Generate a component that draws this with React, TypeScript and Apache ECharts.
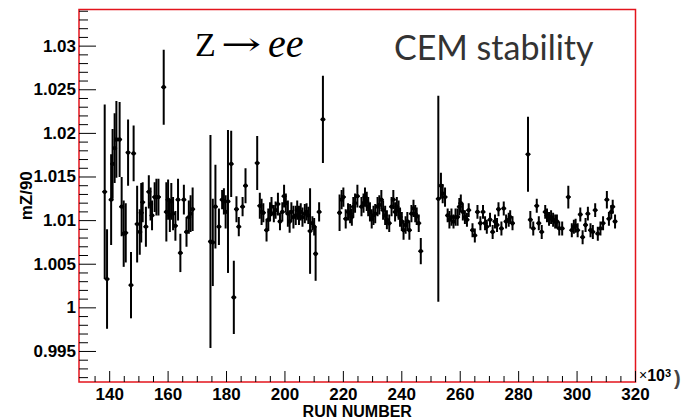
import React, { useEffect, useRef } from "react";
import * as echarts from "echarts";

// Run number (x10^3)
const runNumbers = [
  138.3, 139.1, 140.5, 141.0, 141.7, 142.3, 143.4, 144.1, 144.8, 145.5,
  146.3, 147.3, 148.2, 149.4, 150.3, 150.8, 151.3, 152.4, 153.4, 154.0,
  154.5, 155.4, 156.0, 156.7, 158.5, 159.4, 160.0, 160.6, 161.1, 161.7,
  162.5, 163.4, 164.2, 165.4, 166.3, 167.1, 167.7, 168.4,
  174.5, 175.3, 176.2, 177.4, 178.5, 179.1, 179.7, 180.5, 181.6, 182.5,
  183.4, 184.2, 185.5,
  186.5, 190.5, 191.4, 192.0, 192.6, 193.7, 194.3, 194.9, 195.4, 196.2,
  196.8, 197.6, 198.3, 199.1, 199.7, 200.3, 201.0, 201.6, 202.2, 202.9,
  203.7, 204.2, 204.8, 205.4, 206.0, 206.8, 207.4, 208.0, 208.6, 209.4,
  210.0, 210.5, 211.7, 213.0,
  218.7, 219.4, 220.0, 220.8, 221.6, 222.3, 222.9, 223.4, 224.0, 224.8,
  226.2, 226.9, 227.4, 228.0, 228.5, 229.1, 229.7, 230.3, 230.9, 231.7,
  232.3, 233.0, 233.6, 234.3, 234.9, 235.7, 236.5, 237.1, 237.7, 238.3,
  238.9, 239.4, 240.0, 240.6, 241.3, 241.9, 242.6, 243.3, 244.0, 244.6,
  245.1, 245.8, 246.5,
  252.5, 253.4, 254.0, 254.8, 255.7, 256.3, 257.0, 257.7, 258.4, 259.1,
  259.7, 260.2, 260.9, 261.6, 262.3, 262.9,
  264.2, 265.0, 265.9, 266.9, 267.8, 268.5, 269.1, 270.2, 271.1, 271.9,
  272.6, 273.1, 274.1, 274.9, 275.7, 276.6, 277.1, 277.9,
  283.2, 284.0, 285.0, 286.2, 286.9, 287.9, 289.1, 289.7, 290.4, 291.1,
  291.8, 292.5, 293.1, 293.9, 294.9,
  297.0, 298.2, 298.9, 299.5, 300.2, 301.1, 301.9, 302.9, 303.7, 304.6,
  305.4, 306.2, 307.1, 308.0, 308.9, 310.2, 310.9, 311.7, 312.2, 313.0,
];

// mZ/90
const mzRatio = [
  1.0133, 1.0033, 1.0124, 1.0165, 1.0183, 1.0193, 1.0193, 1.0116, 1.0085, 1.0086,
  1.0178, 1.0026, 1.0177, 1.0096, 1.0087, 1.0109, 1.0121, 1.0093, 1.0133, 1.0119,
  1.0106, 1.0127, 1.0127, 1.0127, 1.0253, 1.0110, 1.0124, 1.0106, 1.0122, 1.0108,
  1.0094, 1.0124, 1.0063, 1.0124, 1.0087, 1.0104, 1.0108, 1.0113,
  1.0076, 1.0075, 1.0116, 1.0093, 1.0124, 1.0122, 1.0110, 1.0122, 1.0165, 1.0012,
  1.0113, 1.0093, 1.0116,
  1.0140, 1.0166, 1.0117, 1.0110, 1.0109, 1.0089, 1.0101, 1.0110, 1.0116, 1.0108,
  1.0112, 1.0119, 1.0099, 1.0110, 1.0128, 1.0120, 1.0108, 1.0099, 1.0110, 1.0104,
  1.0106, 1.0112, 1.0106, 1.0110, 1.0104, 1.0108, 1.0110, 1.0106, 1.0088, 1.0097,
  1.0093, 1.0062, 1.0110, 1.0216,
  1.0109, 1.0124, 1.0127, 1.0102, 1.0110, 1.0108, 1.0104, 1.0116, 1.0120, 1.0128,
  1.0116, 1.0120, 1.0127, 1.0122, 1.0116, 1.0110, 1.0102, 1.0106, 1.0108, 1.0116,
  1.0118, 1.0124, 1.0112, 1.0106, 1.0101, 1.0097, 1.0116, 1.0124, 1.0110, 1.0116,
  1.0112, 1.0104, 1.0099, 1.0089, 1.0095, 1.0099, 1.0089, 1.0108, 1.0114, 1.0108,
  1.0105, 1.0097, 1.0065,
  1.0125, 1.0140, 1.0131, 1.0127, 1.0106, 1.0101, 1.0104, 1.0099, 1.0104, 1.0104,
  1.0116, 1.0120, 1.0110, 1.0104, 1.0101, 1.0112,
  1.0089, 1.0083, 1.0110, 1.0097, 1.0110, 1.0097, 1.0093, 1.0101, 1.0087, 1.0099,
  1.0095, 1.0113, 1.0091, 1.0114, 1.0099, 1.0101, 1.0104, 1.0097,
  1.0176, 1.0101, 1.0091, 1.0117, 1.0097, 1.0087, 1.0110, 1.0106, 1.0102, 1.0104,
  1.0101, 1.0099, 1.0099, 1.0091, 1.0091,
  1.0127, 1.0089, 1.0093, 1.0094, 1.0089, 1.0107, 1.0081, 1.0095, 1.0108, 1.0089,
  1.0087, 1.0112, 1.0085, 1.0091, 1.0097, 1.0124, 1.0102, 1.0110, 1.0116, 1.0099,
];

// statistical error on mZ/90
const mzError = [
  0.0100, 0.0057, 0.0052, 0.0040, 0.0040, 0.0044, 0.0043, 0.0034, 0.0038, 0.0034,
  0.0038, 0.0038, 0.0032, 0.0044, 0.0026, 0.0034, 0.0023, 0.0023, 0.0019, 0.0019,
  0.0017, 0.0017, 0.0021, 0.0021, 0.0043, 0.0034, 0.0023, 0.0019, 0.0021, 0.0019,
  0.0017, 0.0024, 0.0022, 0.0017, 0.0017, 0.0019, 0.0021, 0.0025,
  0.0122, 0.0050, 0.0048, 0.0021, 0.0011, 0.0015, 0.0019, 0.0082, 0.0038, 0.0042,
  0.0015, 0.0011, 0.0011,
  0.0020, 0.0031, 0.0015, 0.0015, 0.0011, 0.0013, 0.0013, 0.0011, 0.0011, 0.0010,
  0.0010, 0.0013, 0.0010, 0.0011, 0.0013, 0.0011, 0.0015, 0.0013, 0.0011, 0.0013,
  0.0011, 0.0011, 0.0011, 0.0010, 0.0011, 0.0011, 0.0010, 0.0010, 0.0049, 0.0008,
  0.0010, 0.0031, 0.0011, 0.0050,
  0.0021, 0.0011, 0.0011, 0.0011, 0.0010, 0.0011, 0.0010, 0.0011, 0.0011, 0.0013,
  0.0011, 0.0011, 0.0011, 0.0011, 0.0011, 0.0011, 0.0011, 0.0011, 0.0011, 0.0011,
  0.0011, 0.0011, 0.0011, 0.0011, 0.0011, 0.0010, 0.0011, 0.0011, 0.0011, 0.0011,
  0.0011, 0.0011, 0.0011, 0.0011, 0.0010, 0.0011, 0.0011, 0.0010, 0.0010, 0.0010,
  0.0010, 0.0010, 0.0015,
  0.0118, 0.0015, 0.0011, 0.0011, 0.0008, 0.0010, 0.0010, 0.0008, 0.0010, 0.0010,
  0.0010, 0.0010, 0.0010, 0.0008, 0.0008, 0.0008,
  0.0008, 0.0008, 0.0008, 0.0008, 0.0008, 0.0008, 0.0008, 0.0008, 0.0008, 0.0008,
  0.0008, 0.0008, 0.0008, 0.0008, 0.0008, 0.0008, 0.0008, 0.0008,
  0.0043, 0.0010, 0.0008, 0.0008, 0.0008, 0.0008, 0.0008, 0.0008, 0.0008, 0.0008,
  0.0008, 0.0008, 0.0008, 0.0008, 0.0008,
  0.0013, 0.0008, 0.0008, 0.0008, 0.0008, 0.0008, 0.0008, 0.0008, 0.0008, 0.0008,
  0.0008, 0.0008, 0.0008, 0.0008, 0.0008, 0.0010, 0.0008, 0.0008, 0.0008, 0.0008,
];

const xTickLabels = [140, 160, 180, 200, 220, 240, 260, 280, 300, 320];
const yTickLabels = [0.995, 1, 1.005, 1.01, 1.015, 1.02, 1.025, 1.03];

const X_MIN = 129.5;
const X_MAX = 320;
const Y_MIN = 0.9915;
const Y_MAX = 1.0342;

const tickSeries = (
  values: number[],
  axis: "x" | "y",
  len: number
) => ({
  type: "custom",
  xAxisIndex: 0,
  yAxisIndex: 0,
  clip: false,
  silent: true,
  z: 5,
  data: values.map((v) => (axis === "x" ? [v, Y_MIN] : [X_MIN, v])),
  renderItem: (_p: any, api: any) => {
    const c = api.coord([api.value(0), api.value(1)]);
    const shape =
      axis === "x"
        ? { x1: c[0], y1: c[1], x2: c[0], y2: c[1] - len }
        : { x1: c[0], y1: c[1], x2: c[0] + len, y2: c[1] };
    return { type: "line", shape, style: { stroke: "#000", lineWidth: 1 } };
  },
});

export default function App() {
  const ref = useRef<HTMLDivElement>(null);

  useEffect(() => {
    if (!ref.current) return;
    const chart = echarts.init(ref.current, null, { renderer: "svg" });

    const xMinor: number[] = [];
    for (let v = 135; v < 320; v += 5) if (v % 20 !== 0) xMinor.push(v);
    const yMinor: number[] = [];
    for (let i = 992; i <= 1034; i++) if (i % 5 !== 0) yMinor.push(i / 1000);

    const data = runNumbers.map((r, i) => [r, mzRatio[i], mzError[i]]);

    const labelFont = {
      fontFamily: "Liberation Sans",
      fontWeight: "bold" as const,
      fontSize: 17,
      color: "#000",
    };

    chart.setOption({
      animation: false,
      backgroundColor: "#fff",
      grid: {
        left: 79,
        right: 47.5,
        top: 9.5,
        bottom: 38,
        containLabel: false,
        outerBoundsMode: "none",
        show: true,
        borderColor: "#e3141c",
        borderWidth: 1.5,
        backgroundColor: "transparent",
      },
      xAxis: {
        type: "value",
        min: X_MIN,
        max: X_MAX,
        position: "bottom",
        name: "RUN NUMBER",
        nameLocation: "middle",
        nameGap: 21,
        nameMoveOverlap: false,
        nameTextStyle: { ...labelFont, fontSize: 16, lineHeight: 16 },
        axisLine: { show: false },
        splitLine: { show: false },
        axisTick: { show: false },
        axisLabel: {
          ...labelFont,
          lineHeight: 16,
          margin: 4,
          customValues: xTickLabels,
          formatter: (v: number) => String(Math.round(v)),
        },
      },
      yAxis: {
        type: "value",
        min: Y_MIN,
        max: Y_MAX,
        position: "left",
        name: "mZ/90",
        nameLocation: "middle",
        nameGap: 44,
        nameRotate: 90,
        nameMoveOverlap: false,
        nameTextStyle: { ...labelFont },
        axisLine: { show: false },
        splitLine: { show: false },
        axisTick: { show: false },
        axisLabel: {
          ...labelFont,
          margin: 3,
          customValues: yTickLabels,
          formatter: (v: number) => String(Number(v.toFixed(3))),
        },
      },
      series: [
        tickSeries(xTickLabels, "x", 11),
        tickSeries(xMinor, "x", 6),
        tickSeries(yTickLabels, "y", 17),
        tickSeries(yMinor, "y", 9),
        {
          type: "custom",
          xAxisIndex: 0,
          yAxisIndex: 0,
          clip: true,
          z: 3,
          data,
          renderItem: (_params: any, api: any) => {
            const x = api.value(0);
            const y = api.value(1);
            const e = api.value(2);
            const c = api.coord([x, y]);
            const top = api.coord([x, y + e]);
            const bot = api.coord([x, y - e]);
            return {
              type: "group",
              children: [
                {
                  type: "line",
                  shape: { x1: c[0], y1: top[1], x2: c[0], y2: bot[1] },
                  style: { stroke: "#000", lineWidth: 2 },
                },
                {
                  type: "line",
                  shape: { x1: c[0] - 2.5, y1: c[1], x2: c[0] + 2.5, y2: c[1] },
                  style: { stroke: "#000", lineWidth: 1.5 },
                },
                {
                  type: "circle",
                  shape: { cx: c[0], cy: c[1], r: 2.2 },
                  style: { fill: "#000" },
                },
              ],
            };
          },
        },
      ],
      graphic: [
        {
          type: "text",
          x: 195,
          y: 44,
          style: {
            text: "Z",
            font: '34px "Liberation Serif"',
            fill: "#000",
            verticalAlign: "middle",
          },
        },
        {
          type: "text",
          x: 221,
          y: 44,
          scaleX: 1.5,
          style: {
            text: "→",
            font: '32px "DejaVu Serif"',
            fill: "#000",
            verticalAlign: "middle",
          },
        },
        {
          type: "text",
          x: 268,
          y: 43,
          style: {
            text: "ee",
            font: 'italic 40px "Liberation Serif"',
            fill: "#000",
            verticalAlign: "middle",
          },
        },
        {
          type: "text",
          x: 394,
          y: 46,
          style: {
            text: "CEM stability",
            font: '34px Lato',
            fill: "#333",
            verticalAlign: "middle",
          },
        },
        {
          type: "text",
          x: 639,
          y: 375,
          style: {
            text: "{x|×}{n|10}{s|3}",
            verticalAlign: "middle",
            rich: {
              x: { fontFamily: "Liberation Sans", fontSize: 14, lineHeight: 15, fill: "#000" },
              n: { fontFamily: "Liberation Sans", fontWeight: "bold", fontSize: 16, lineHeight: 15, fill: "#000" },
              s: {
                fontFamily: "Liberation Sans",
                fontWeight: "bold",
                fontSize: 11,
                lineHeight: 11,
                fill: "#000",
                verticalAlign: "top",
              },
            },
          },
        },
        {
          type: "text",
          x: 674,
          y: 378,
          style: {
            text: ")",
            font: 'bold 20px "Liberation Sans"',
            fill: "#444",
            verticalAlign: "middle",
          },
        },
      ],
    });

    return () => chart.dispose();
  }, []);

  return (
    <div
      ref={ref}
      style={{ position: "fixed", left: 0, top: 0, width: 683, height: 420, background: "#fff" }}
    />
  );
}
